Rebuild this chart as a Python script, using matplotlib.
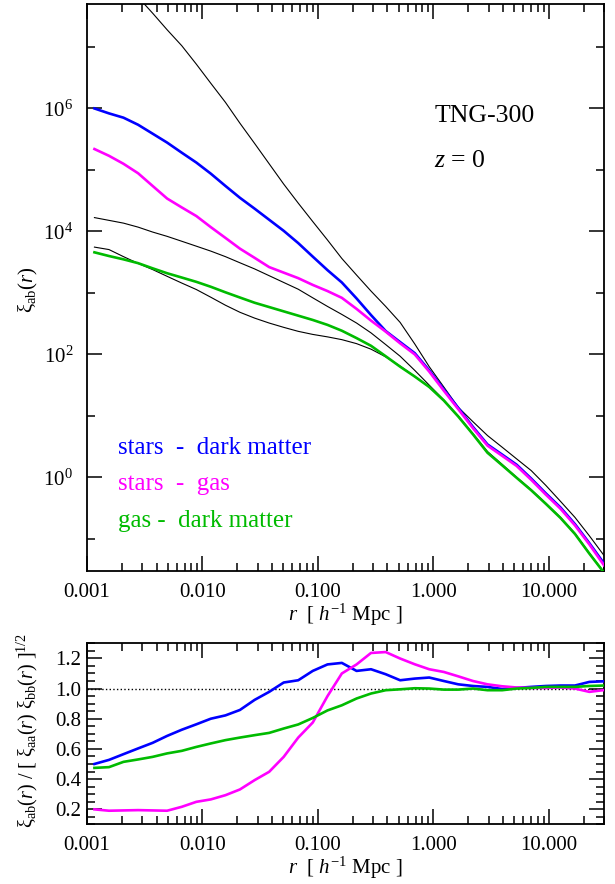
import numpy as np
import matplotlib
matplotlib.use("Agg")
import matplotlib.pyplot as plt
from matplotlib.ticker import FixedLocator, FuncFormatter, MultipleLocator, NullFormatter

plt.rcParams['font.family'] = 'serif'
plt.rcParams['font.serif'] = ['Liberation Serif']
plt.rcParams['mathtext.fontset'] = 'custom'
plt.rcParams['mathtext.rm'] = 'Liberation Serif'
plt.rcParams['mathtext.it'] = 'Liberation Serif:italic'
plt.rcParams['mathtext.bf'] = 'Liberation Serif:bold'

# separation bins [h^-1 Mpc]
r = [0.00116, 0.00155, 0.00207, 0.00277, 0.00370, 0.00494, 0.00662, 0.00885,
     0.0118, 0.0158, 0.0211, 0.0283, 0.0378, 0.0505, 0.0675, 0.0902, 0.121,
     0.161, 0.216, 0.288, 0.386, 0.515, 0.689, 0.920, 1.23, 1.64, 2.20, 2.94,
     3.94, 5.26, 7.03, 9.40, 12.6, 16.8, 22.4, 30.0]

# log10 xi(r), cross correlations
lg_xi_sd = [6.00, 5.92, 5.85, 5.735, 5.59, 5.445, 5.28, 5.12, 4.94, 4.74, 4.547,
            4.37, 4.19, 4.01, 3.81, 3.59, 3.37, 3.17, 2.91, 2.64, 2.38, 2.20, 2.02,
            1.74, 1.43, 1.13, 0.82, 0.535, 0.37, 0.205, -0.02, -0.26, -0.49, -0.76,
            -1.07, -1.40]
lg_xi_sg = [5.34, 5.23, 5.10, 4.946, 4.74, 4.535, 4.39, 4.25, 4.07, 3.895, 3.72,
            3.57, 3.42, 3.33, 3.24, 3.13, 3.03, 2.92, 2.74, 2.55, 2.37, 2.18, 2.00,
            1.72, 1.41, 1.11, 0.80, 0.516, 0.35, 0.185, -0.04, -0.28, -0.51, -0.78,
            -1.09, -1.43]
lg_xi_gd = [3.66, 3.60, 3.546, 3.484, 3.40, 3.32, 3.25, 3.18, 3.10, 3.01, 2.925,
            2.84, 2.77, 2.70, 2.63, 2.56, 2.48, 2.385, 2.265, 2.14, 1.97, 1.80, 1.64,
            1.47, 1.25, 0.99, 0.70, 0.40, 0.196, -0.008, -0.21, -0.43, -0.66, -0.92,
            -1.24, -1.55]

# log10 xi(r), auto correlations (stars, dark matter, gas)
lg_xi_ss = [8.56, 8.31, 8.06, 7.81, 7.55, 7.28, 7.02, 6.72, 6.41, 6.10, 5.76,
            5.43, 5.10, 4.77, 4.46, 4.16, 3.86, 3.56, 3.29, 3.03, 2.78, 2.52, 2.17,
            1.80, 1.47, 1.14, 0.905, 0.68, 0.49, 0.30, 0.11, -0.13, -0.39, -0.65,
            -0.95, -1.27]
lg_xi_dd = [4.225, 4.18, 4.135, 4.07, 3.99, 3.92, 3.84, 3.76, 3.68, 3.59, 3.49,
            3.39, 3.28, 3.17, 3.06, 2.92, 2.78, 2.65, 2.51, 2.35, 2.16, 1.97, 1.74,
            1.50, 1.26, 1.00, 0.71, 0.42, 0.21, 0.0, -0.20, -0.42, -0.65, -0.91,
            -1.23, -1.54]
lg_xi_gg = [3.745, 3.705, 3.59, 3.48, 3.38, 3.27, 3.16, 3.055, 2.93, 2.80, 2.685,
            2.59, 2.51, 2.44, 2.375, 2.325, 2.285, 2.24, 2.175, 2.085, 1.96, 1.81,
            1.64, 1.47, 1.25, 0.99, 0.70, 0.40, 0.196, -0.008, -0.21, -0.43, -0.66,
            -0.92, -1.24, -1.55]

# xi_ab / sqrt(xi_aa xi_bb)
ratio_sd = [0.50, 0.527, 0.565, 0.603, 0.64, 0.686, 0.727, 0.763, 0.80, 0.822,
            0.858, 0.925, 0.978, 1.04, 1.055, 1.117, 1.16, 1.17, 1.117, 1.128, 1.095,
            1.055, 1.066, 1.073, 1.05, 1.028, 1.017, 1.011, 0.997, 1.004, 1.011,
            1.017, 1.02, 1.02, 1.044, 1.048]
ratio_sg = [0.199, 0.19, 0.192, 0.194, 0.192, 0.19, 0.216, 0.249, 0.265, 0.293,
            0.331, 0.393, 0.448, 0.547, 0.675, 0.775, 0.95, 1.10, 1.16, 1.236, 1.242,
            1.199, 1.161, 1.128, 1.11, 1.081, 1.05, 1.028, 1.015, 1.007, 1.004,
            1.004, 1.007, 1.0, 0.978, 0.99]
ratio_gd = [0.474, 0.479, 0.514, 0.53, 0.547, 0.57, 0.587, 0.613, 0.636, 0.658,
            0.675, 0.691, 0.706, 0.735, 0.762, 0.805, 0.855, 0.889, 0.934, 0.967,
            0.989, 0.995, 1.002, 1.0, 0.993, 0.993, 1.0, 0.989, 0.989, 1.0, 1.004,
            1.011, 1.011, 1.011, 1.017, 1.02]

labels = ['stars  -  dark matter', 'stars  -  gas', 'gas -  dark matter']
colors = ['#0000ff', '#ff00ff', '#00bb00']

x_major = [0.001, 0.01, 0.1, 1.0, 10.0]
x_minor = [m * d for d in x_major for m in range(2, 10)]

W, H = 615, 884
fig = plt.figure(figsize=(W / 100, H / 100), dpi=100)
ax1 = fig.add_axes([87 / W, 1 - 571 / H, 517 / W, 567 / H])
ax2 = fig.add_axes([87 / W, 1 - 824.3 / H, 517 / W, 181 / H])


def style_axis(ax, ypad):
    for s in ax.spines.values():
        s.set_linewidth(1.3)
    ax.tick_params(which='both', direction='in', top=True, right=True,
                   width=1.1, labelsize=15)
    ax.tick_params(axis='x', which='both', pad=8.5)
    ax.tick_params(axis='y', which='both', pad=ypad)
    ax.tick_params(which='major', length=11)
    ax.tick_params(which='minor', length=5.5)
    ax.set_xscale('log')
    ax.set_xlim(0.001, 30)
    ax.xaxis.set_major_locator(FixedLocator(x_major))
    ax.xaxis.set_minor_locator(FixedLocator(x_minor))
    ax.xaxis.set_major_formatter(FuncFormatter(lambda v, p: '%.3f' % v))
    ax.xaxis.set_minor_formatter(NullFormatter())
    ax.set_xlabel(r'$r$  [ $h^{-1}$ Mpc ]', fontsize=15, labelpad=0)


# top panel: correlation functions
style_axis(ax1, 10)
ax1.set_yscale('log')
ax1.set_ylim(0.03, 5e7)
ax1.yaxis.set_major_locator(FixedLocator([1e0, 1e2, 1e4, 1e6]))
ax1.yaxis.set_minor_locator(FixedLocator([1e-1, 1e1, 1e3, 1e5, 1e7]))
ax1.yaxis.set_major_formatter(FuncFormatter(lambda v, p: r'$10^{%d}$' % round(np.log10(v))))
ax1.yaxis.set_minor_formatter(NullFormatter())

for lg in (lg_xi_ss, lg_xi_dd, lg_xi_gg):
    ax1.plot(r, 10 ** np.array(lg), color='k', lw=0.8, zorder=2)
for lg, c in zip((lg_xi_sd, lg_xi_sg, lg_xi_gd), colors):
    ax1.plot(r, 10 ** np.array(lg), color=c, lw=1.9, zorder=3)

ax1.text(0.672, 0.792, 'TNG-300', transform=ax1.transAxes, fontsize=18.5, va='baseline')
ax1.text(0.672, 0.713, r'$z$ = 0', transform=ax1.transAxes, fontsize=18.5, va='baseline')
for i, (lab, c) in enumerate(zip(labels, colors)):
    ax1.text(0.0605, 0.206 - 0.064 * i, lab, color=c, transform=ax1.transAxes,
             fontsize=18, va='baseline')

fig.text(28 / W, 1 - 290 / H, r'$\mathrm{\xi}_{\rm ab}(r)$', rotation=90,
         ha='center', va='center', fontsize=15)

# bottom panel: cross-correlation coefficient
style_axis(ax2, 4)
ax2.set_ylim(0.1, 1.3)
ax2.yaxis.set_major_locator(FixedLocator([0.2, 0.4, 0.6, 0.8, 1.0, 1.2]))
ax2.yaxis.set_minor_locator(MultipleLocator(0.05))
ax2.yaxis.set_major_formatter(FuncFormatter(lambda v, p: '%.1f' % v))
ax2.axhline(1.0, color='k', lw=1.0, ls=':', zorder=1)
for ratio, c in zip((ratio_sd, ratio_sg, ratio_gd), colors):
    ax2.plot(r, ratio, color=c, lw=1.9, zorder=3)

fig.text(27 / W, 1 - 730 / H,
         r'$\mathrm{\xi}_{\rm ab}(r)\ /\ [\ \mathrm{\xi}_{\rm aa}(r)\ \mathrm{\xi}_{\rm bb}(r)\ ]^{1/2}$',
         rotation=90, ha='center', va='center', fontsize=14.5)

fig.savefig('out.png', dpi=100)
